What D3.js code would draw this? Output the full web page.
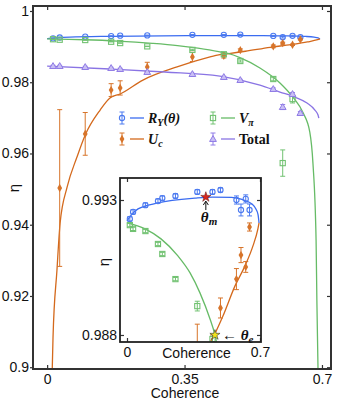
<!DOCTYPE html>
<html>
<head>
<meta charset="utf-8">
<script src="https://cdn.jsdelivr.net/npm/d3@7"></script>
<style>
  body { margin: 0; background: #fff; }
  svg { display: block; }
  .tick text { font-family: "Liberation Sans", Arial, sans-serif; font-size: 14px; fill: #111; }
  .tick line { stroke: #333; }
  .lbl { font-family: "Liberation Sans", Arial, sans-serif; font-size: 14px; fill: #111; }
  .math { font-family: "Liberation Serif", "Times New Roman", serif; font-weight: bold; fill: #111; }
</style>
</head>
<body>
<svg id="chart" width="340" height="408"></svg>
<script>
// measured points (same coherence values for every series)
const coherence = [0.015, 0.032, 0.097, 0.163, 0.186, 0.255, 0.37, 0.45, 0.492, 0.576, 0.600, 0.625, 0.645];

const ryEta = [0.9923, 0.99256, 0.99281, 0.99296, 0.99307, 0.99315, 0.9933, 0.9933, 0.99337, 0.993, 0.99263, 0.99304, 0.99263];
const ryErr = [0.00008, 0.00008, 0.00008, 0.00008, 0.00008, 0.00008, 0.00008, 0.00008, 0.00008, 0.00015, 0.00022, 0.00015, 0.00022];

const ucEta = [null, 0.9503, 0.9655, 0.9778, 0.9784, 0.9843, 0.9871, 0.9874, 0.989, 0.99007, 0.99096, 0.99052, 0.992];
const ucErr = [null, 0.022, 0.006, 0.0018, 0.002, 0.0013, 0.0013, 0.0006, 0.00037, 0.00039, 0.00028, 0.0002, 0.00015];

const vpiEta = [0.99207, 0.99193, 0.99185, 0.99137, 0.991, 0.99007, 0.98907, 0.98785, 0.98596, 0.9809, 0.9573, 0.97528, null];
const vpiErr = [0.00006, 0.00006, 0.00006, 0.00006, 0.00006, 0.00006, 0.00018, 0.0001, 0.0003, 0.0005, 0.0037, 0.0011, null];

const totalEta = [0.98455, 0.98455, 0.98427, 0.98399, 0.98371, 0.98287, 0.9823, 0.98146, 0.98062, 0.97809, 0.97303, 0.97669, 0.97135];
const totalErr = [0.0002, 0.0002, 0.0002, 0.0002, 0.0002, 0.0002, 0.0002, 0.0002, 0.0002, 0.0003, 0.0007, 0.0004, 0.0004];

// fitted curves [coherence, eta]
const ryCurve = [[0, 0.99222], [0.02, 0.99242], [0.058, 0.99267], [0.163, 0.99289], [0.358, 0.99307], [0.45, 0.99311],
  [0.55, 0.9931], [0.6, 0.99303], [0.658, 0.99285], [0.68, 0.99265], [0.69, 0.99245], [0.695, 0.99215]];
const ucCurve = [[0.013, 0.8994], [0.015, 0.9084], [0.025, 0.9272], [0.033, 0.9404], [0.051, 0.9506], [0.076, 0.959],
  [0.097, 0.9652], [0.135, 0.9722], [0.16, 0.9756], [0.186, 0.9767], [0.244, 0.9806], [0.331, 0.9843], [0.415, 0.9871],
  [0.437, 0.9877], [0.463, 0.98805], [0.505, 0.9887], [0.568, 0.98981], [0.621, 0.99056], [0.663, 0.9913],
  [0.689, 0.99193], [0.695, 0.99215]];
const vpiCurve = [[0, 0.99215], [0.095, 0.99193], [0.179, 0.99156], [0.268, 0.99093], [0.332, 0.9903], [0.384, 0.98956],
  [0.437, 0.98859], [0.463, 0.988], [0.491, 0.9869], [0.542, 0.984], [0.593, 0.9798], [0.626, 0.9758], [0.652, 0.9714],
  [0.669, 0.966], [0.677, 0.9573], [0.685, 0.9357], [0.687, 0.9188], [0.69, 0.899]];
const totalCurve = [[0, 0.98455], [0.16, 0.98371], [0.3, 0.98287], [0.44, 0.98174], [0.542, 0.97921], [0.593, 0.97725],
  [0.631, 0.97584], [0.662, 0.97416], [0.682, 0.97219], [0.69, 0.97079], [0.692, 0.96994]];

const optimum = [0.415, 0.99311];     // theta_m
const crossing = [0.463, 0.988];      // theta_e

const mainXTicks = [0, 0.35, 0.7];
const mainXLabels = ['0', '0.35', '0.7'];
const mainYTicks = [0.9, 0.92, 0.94, 0.96, 0.98, 1];
const mainYLabels = ['0.9', '0.92', '0.94', '0.96', '0.98', '1'];
const insetXTicks = [0, 0.7];
const insetXLabels = ['0', '0.7'];
const insetYTicks = [0.988, 0.993];
const insetYLabels = ['0.988', '0.993'];

const series = [
  { name: 'ry', eta: ryEta, err: ryErr, curve: ryCurve, line: '#3b6cf0', mark: '#4c7af0', marker: 'circle' },
  { name: 'uc', eta: ucEta, err: ucErr, curve: ucCurve, line: '#d4691c', mark: '#d7742a', marker: 'diamond' },
  { name: 'vpi', eta: vpiEta, err: vpiErr, curve: vpiCurve, line: '#66bb66', mark: '#72c272', marker: 'square' },
  { name: 'total', eta: totalEta, err: totalErr, curve: totalCurve, line: '#8a74e4', mark: '#907ce6', marker: 'triangle' }
];

const svg = d3.select('#chart');

const M = { left: 33, right: 331, top: 6, bottom: 369 };
const x = d3.scaleLinear().domain([-0.036, 0.723]).range([M.left, M.right]);
const y = d3.scaleLinear().domain([0.8995, 1.0014]).range([M.bottom, M.top]);

const I = { left: 120, right: 261, top: 178, bottom: 342 };
const xi = d3.scaleLinear().domain([-0.0368, 0.7053]).range([I.left, I.right]);
const yi = d3.scaleLinear().domain([0.98774, 0.993815]).range([I.bottom, I.top]);

function drawMarker(g, px, py, s) {
  if (s.marker === 'circle') {
    g.append('circle').attr('cx', px).attr('cy', py).attr('r', 2.6)
      .attr('fill', 'none').attr('stroke', s.mark).attr('stroke-width', 1.1);
  } else if (s.marker === 'square') {
    g.append('rect').attr('x', px - 2.6).attr('y', py - 2.6).attr('width', 5.2).attr('height', 5.2)
      .attr('fill', 'none').attr('stroke', s.mark).attr('stroke-width', 1.1);
  } else if (s.marker === 'diamond') {
    g.append('path').attr('d', d3.symbol(d3.symbolDiamond, 20)())
      .attr('transform', `translate(${px},${py})`).attr('fill', s.mark);
  } else {
    g.append('path').attr('d', d3.symbol(d3.symbolTriangle, 20)())
      .attr('transform', `translate(${px},${py + 0.5})`)
      .attr('fill', '#c9bff4').attr('stroke', s.mark).attr('stroke-width', 1);
  }
}

function drawPoint(g, px, lo, py, hi, s) {
  g.append('line').attr('x1', px).attr('x2', px).attr('y1', lo).attr('y2', hi)
    .attr('stroke', s.mark).attr('stroke-width', 1);
  [lo, hi].forEach(v => {
    g.append('line').attr('x1', px - 2.5).attr('x2', px + 2.5).attr('y1', v).attr('y2', v)
      .attr('stroke', s.mark).attr('stroke-width', 1);
  });
  drawMarker(g, px, py, s);
}

function drawPanel(g, xs, ys) {
  let line = d3.line()
    .x(d => xs(d[0]))
    .y(d => ys(d[1]))
    .curve(d3.curveMonotoneX);

  series.forEach(s => {
    g.append('path')
      .datum(s.curve)
      .attr('d', line)
      .attr('fill', 'none')
      .attr('stroke', s.line)
      .attr('stroke-width', 1.3);
  });

  series.forEach(s => {
    let pg = g.append('g');
    coherence.forEach((c, i) => {
      if (s.eta[i] == null) { return; }
      drawPoint(pg, xs(c), ys(s.eta[i] - s.err[i]), ys(s.eta[i]), ys(s.eta[i] + s.err[i]), s);
    });
  });
}

function frameAxes(xs, ys, box, xt, xl, yt, yl, leftOut) {
  let fmt = (ticks, labels) => d => labels[ticks.indexOf(d)];

  let bottom = svg.append('g')
    .attr('transform', `translate(0,${box.bottom})`)
    .call(d3.axisBottom(xs).tickValues(xt).tickFormat(fmt(xt, xl)).tickSizeInner(-4).tickSizeOuter(0).tickPadding(4));
  let top = svg.append('g')
    .attr('transform', `translate(0,${box.top})`)
    .call(d3.axisTop(xs).tickValues(xt).tickFormat('').tickSizeInner(-4).tickSizeOuter(0));
  let left = svg.append('g')
    .attr('transform', `translate(${box.left},0)`)
    .call(d3.axisLeft(ys).tickValues(yt).tickFormat(fmt(yt, yl))
      .tickSizeInner(leftOut ? 3 : -4).tickSizeOuter(0).tickPadding(leftOut ? 1 : 3));
  let right = svg.append('g')
    .attr('transform', `translate(${box.right},0)`)
    .call(d3.axisRight(ys).tickValues(yt).tickFormat('').tickSizeInner(-4).tickSizeOuter(0));

  [bottom, top, left, right].forEach(a => a.select('.domain').remove());
  [bottom, top, left, right].forEach(a => a.selectAll('.tick line').attr('stroke-width', 1.2));
  bottom.selectAll('.tick text').attr('dy', '0.75em');
}

// main panel
svg.append('clipPath').attr('id', 'clipMain')
  .append('rect').attr('x', M.left).attr('y', M.top)
  .attr('width', M.right - M.left).attr('height', M.bottom - M.top);

let mainG = svg.append('g').attr('clip-path', 'url(#clipMain)');
drawPanel(mainG, x, y);

frameAxes(x, y, M, mainXTicks, mainXLabels, mainYTicks, mainYLabels, true);

svg.append('rect')
  .attr('x', M.left).attr('y', M.top)
  .attr('width', M.right - M.left).attr('height', M.bottom - M.top)
  .attr('fill', 'none').attr('stroke', '#333').attr('stroke-width', 2);

svg.append('text').attr('class', 'lbl')
  .attr('x', (M.left + M.right) / 2 + 3).attr('y', 398)
  .attr('text-anchor', 'middle')
  .text('Coherence');

svg.append('text').attr('class', 'lbl')
  .attr('transform', 'translate(13,188) rotate(-90)')
  .attr('text-anchor', 'middle').attr('dominant-baseline', 'central')
  .style('font-size', '15px')
  .text('η');

// legend
const legendItems = [
  { s: series[0], col: 0, row: 0, label: [['R', ''], ['Y', 'sub'], ['(θ)', 'up']] },
  { s: series[1], col: 0, row: 1, label: [['U', ''], ['c', 'sub']] },
  { s: series[2], col: 1, row: 0, label: [['V', ''], ['π', 'sub']] },
  { s: series[3], col: 1, row: 1, label: [['Total', 'plain']] }
];

legendItems.forEach(item => {
  let lx = item.col === 0 ? 122 : 213;
  let ly = item.row === 0 ? 118 : 139;
  let g = svg.append('g');
  drawPoint(g, lx, ly + 6, ly, ly - 6, item.s);
  g.append('line').attr('x1', lx + 8).attr('x2', lx + 22).attr('y1', ly).attr('y2', ly)
    .attr('stroke', item.s.line).attr('stroke-width', 1.3);
  let t = g.append('text').attr('class', 'math')
    .attr('x', lx + 26).attr('y', ly + 5)
    .style('font-size', '14px');
  item.label.forEach(([str, kind]) => {
    let sp = t.append('tspan').text(str);
    if (kind === 'sub') {
      sp.style('font-size', '10px').style('font-style', 'italic').attr('dy', 3);
    } else if (kind === 'plain') {
      sp.style('font-style', 'normal');
    } else if (kind === 'up') {
      sp.style('font-style', 'italic').attr('dy', -3);
    } else {
      sp.style('font-style', 'italic');
    }
  });
});

// inset
svg.append('rect')
  .attr('x', I.left).attr('y', I.top)
  .attr('width', I.right - I.left).attr('height', I.bottom - I.top)
  .attr('fill', '#fff');

svg.append('clipPath').attr('id', 'clipInset')
  .append('rect').attr('x', I.left).attr('y', I.top)
  .attr('width', I.right - I.left).attr('height', I.bottom - I.top);

let insetG = svg.append('g').attr('clip-path', 'url(#clipInset)');
drawPanel(insetG, xi, yi);

insetG.append('path')
  .attr('d', d3.symbol(d3.symbolStar, 32)())
  .attr('transform', `translate(${xi(optimum[0])},${yi(optimum[1])})`)
  .attr('fill', '#d8261f').attr('stroke', '#5a1010').attr('stroke-width', 0.5);

insetG.append('path')
  .attr('d', d3.symbol(d3.symbolStar, 32)())
  .attr('transform', `translate(${xi(crossing[0])},${yi(crossing[1])})`)
  .attr('fill', '#f2e51c').attr('stroke', '#333').attr('stroke-width', 0.6);

frameAxes(xi, yi, I, insetXTicks, insetXLabels, insetYTicks, insetYLabels, false);

svg.append('rect')
  .attr('x', I.left).attr('y', I.top)
  .attr('width', I.right - I.left).attr('height', I.bottom - I.top)
  .attr('fill', 'none').attr('stroke', '#222').attr('stroke-width', 1.8);

svg.append('text').attr('class', 'lbl')
  .attr('x', (I.left + I.right) / 2 + 6).attr('y', 358)
  .attr('text-anchor', 'middle')
  .text('Coherence');

svg.append('text').attr('class', 'lbl')
  .attr('transform', 'translate(103,262) rotate(-90)')
  .attr('text-anchor', 'middle').attr('dominant-baseline', 'central')
  .style('font-size', '15px')
  .text('η');

// annotations
let mx = xi(optimum[0]);
let my = yi(optimum[1]);
svg.append('line').attr('x1', mx).attr('x2', mx).attr('y1', my + 13).attr('y2', my + 5)
  .attr('stroke', '#111').attr('stroke-width', 1);
svg.append('path').attr('d', `M${mx - 2.5},${my + 8}L${mx},${my + 4}L${mx + 2.5},${my + 8}`)
  .attr('fill', 'none').attr('stroke', '#111').attr('stroke-width', 1);

let tm = svg.append('text').attr('class', 'math')
  .attr('x', mx - 5).attr('y', my + 25).style('font-size', '15px');
tm.append('tspan').text('θ').style('font-style', 'italic');
tm.append('tspan').text('m').style('font-style', 'italic').style('font-size', '11px').attr('dy', 3);

let ex = xi(crossing[0]);
let ey = yi(crossing[1]);
let te = svg.append('text').attr('class', 'math')
  .attr('x', ex + 7).attr('y', ey + 5).style('font-size', '15px');
te.append('tspan').text('← ').style('font-weight', 'normal');
te.append('tspan').text('θ').style('font-style', 'italic');
te.append('tspan').text('e').style('font-style', 'italic').style('font-size', '11px').attr('dy', 3);
</script>
</body>
</html>
